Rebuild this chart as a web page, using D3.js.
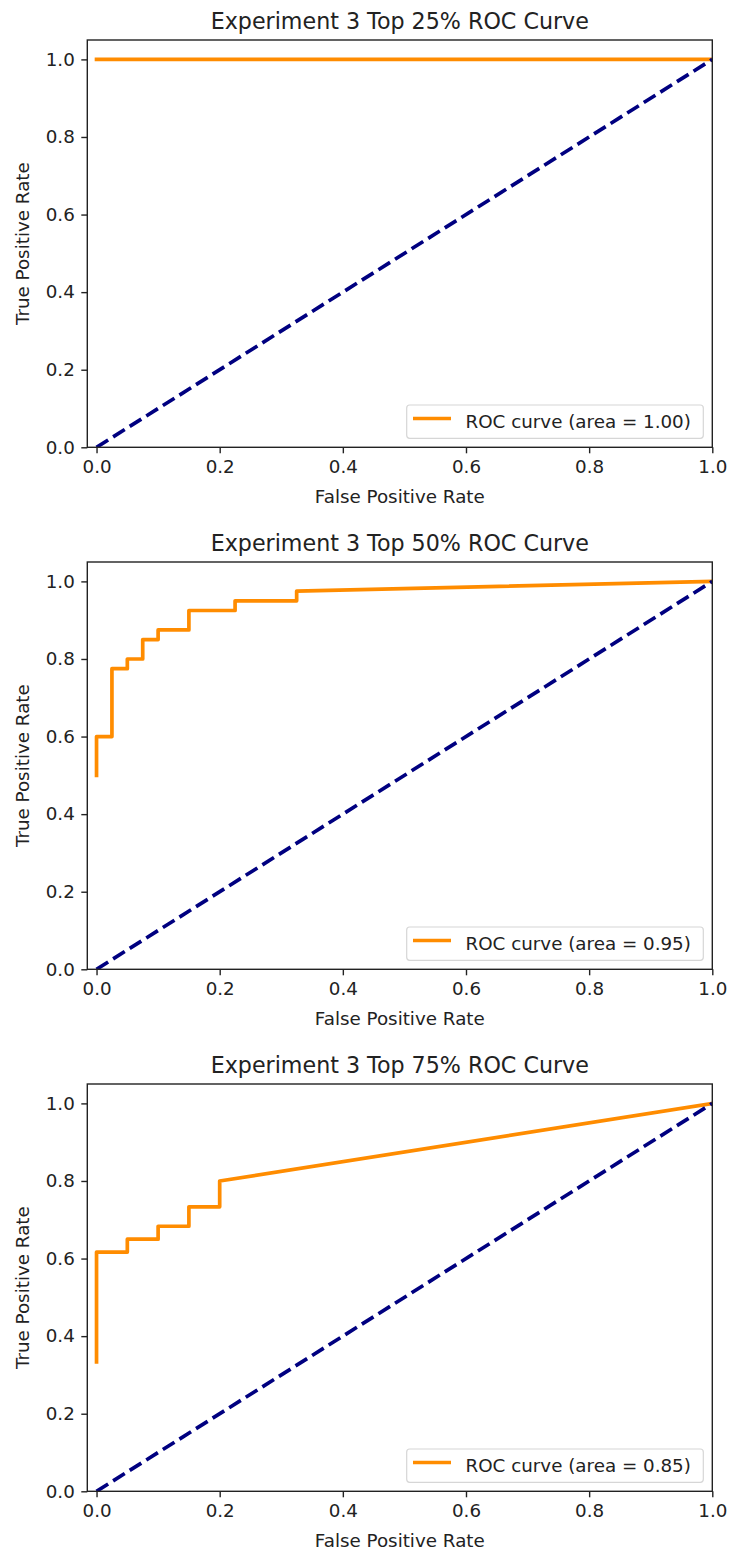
<!DOCTYPE html>
<html>
<head>
<meta charset="utf-8">
<script src="https://cdn.jsdelivr.net/npm/d3@7"></script>
<style>
  html, body { margin: 0; padding: 0; background: #fff; }
  svg { display: block; }
  text { font-family: "DejaVu Sans", sans-serif; fill: #222; }
</style>
</head>
<body>
<svg id="chart" width="730" height="1553"></svg>
<script>
// ROC curves for the three subsets of experiment 3
const panelTitles = [
  "Experiment 3 Top 25% ROC Curve",
  "Experiment 3 Top 50% ROC Curve",
  "Experiment 3 Top 75% ROC Curve"
];
const aucValues = [1.00, 0.95, 0.85];

const fpr25 = [0, 1];
const tpr25 = [1, 1];

const fpr50 = [0, 0, 0.025, 0.025, 0.05, 0.05, 0.075, 0.075, 0.1, 0.1, 0.15, 0.15, 0.225, 0.225, 0.325, 0.325, 1];
const tpr50 = [0.5, 0.6, 0.6, 0.775, 0.775, 0.8, 0.8, 0.85, 0.85, 0.875, 0.875, 0.925, 0.925, 0.95, 0.95, 0.975, 1];

const fpr75 = [0, 0, 0.05, 0.05, 0.1, 0.1, 0.15, 0.15, 0.2, 0.2, 1];
const tpr75 = [20/60, 37/60, 37/60, 39/60, 39/60, 41/60, 41/60, 44/60, 44/60, 48/60, 1];

const chanceX = [0, 1];
const chanceY = [0, 1];

const xTicks = [0, 0.2, 0.4, 0.6, 0.8, 1.0];
const yTicks = [0, 0.2, 0.4, 0.6, 0.8, 1.0];
const xLabel = "False Positive Rate";
const yLabel = "True Positive Rate";

const curves = [
  { fpr: fpr25, tpr: tpr25 },
  { fpr: fpr50, tpr: tpr50 },
  { fpr: fpr75, tpr: tpr75 }
];

const svg = d3.select("#chart");
svg.append("rect").attr("width", 730).attr("height", 1553).attr("fill", "#fff");

const axLeft = 87.3, axRight = 712.3, axTop = 40, axBottom = 447.3;
const panelStep = 522;
const tickLen = 6, tickPad = 6.5;
const fontTick = 18.3, fontTitle = 22.2;

curves.forEach((c, i) => {
  const g = svg.append("g").attr("transform", `translate(0,${i * panelStep})`);

  const x = d3.scaleLinear().domain([-0.015, 1.0]).range([axLeft, axRight]);
  const y = d3.scaleLinear().domain([0, 1.05]).range([axBottom, axTop]);

  const defs = g.append("defs");
  defs.append("clipPath").attr("id", "clip" + i)
    .append("rect")
    .attr("x", axLeft).attr("y", axTop)
    .attr("width", axRight - axLeft).attr("height", axBottom - axTop);

  const plot = g.append("g").attr("clip-path", `url(#clip${i})`);

  const line = d3.line().x(d => x(d[0])).y(d => y(d[1]));

  // ROC curve
  plot.append("path")
    .datum(c.fpr.map((f, k) => [f, c.tpr[k]]))
    .attr("d", line)
    .attr("fill", "none")
    .attr("stroke", "darkorange")
    .attr("stroke-width", 3.7)
    .attr("stroke-linejoin", "round")
    .attr("stroke-linecap", "square");

  // chance diagonal
  plot.append("path")
    .datum(chanceX.map((f, k) => [f, chanceY[k]]))
    .attr("d", line)
    .attr("fill", "none")
    .attr("stroke", "navy")
    .attr("stroke-width", 3.7)
    .attr("stroke-dasharray", "13.7,5.9");

  // x axis
  const xAxis = d3.axisBottom(x).tickValues(xTicks).tickFormat(d3.format(".1f"))
    .tickSize(tickLen).tickPadding(tickPad);
  const gx = g.append("g").attr("transform", `translate(0,${axBottom})`).call(xAxis);
  gx.select(".domain").remove();
  gx.selectAll(".tick line").attr("stroke", "#222").attr("stroke-width", 1.4);
  gx.selectAll(".tick text").attr("font-size", fontTick).attr("fill", "#222")
    .style("font-family", "'DejaVu Sans', sans-serif");

  // y axis
  const yAxis = d3.axisLeft(y).tickValues(yTicks).tickFormat(d3.format(".1f"))
    .tickSize(tickLen).tickPadding(tickPad);
  const gy = g.append("g").attr("transform", `translate(${axLeft},0)`).call(yAxis);
  gy.select(".domain").remove();
  gy.selectAll(".tick line").attr("stroke", "#222").attr("stroke-width", 1.4);
  gy.selectAll(".tick text").attr("font-size", fontTick).attr("fill", "#222")
    .style("font-family", "'DejaVu Sans', sans-serif");

  // axes frame
  g.append("rect")
    .attr("x", axLeft).attr("y", axTop)
    .attr("width", axRight - axLeft).attr("height", axBottom - axTop)
    .attr("fill", "none").attr("stroke", "#222").attr("stroke-width", 1.4);

  // title
  g.append("text")
    .attr("x", (axLeft + axRight) / 2).attr("y", 28.5)
    .attr("text-anchor", "middle")
    .attr("font-size", fontTitle)
    .text(panelTitles[i]);

  // axis labels
  g.append("text")
    .attr("x", (axLeft + axRight) / 2).attr("y", 503)
    .attr("text-anchor", "middle")
    .attr("font-size", fontTick)
    .text(xLabel);

  g.append("text")
    .attr("transform", `translate(29,${(axTop + axBottom) / 2}) rotate(-90)`)
    .attr("text-anchor", "middle")
    .attr("font-size", fontTick)
    .text(yLabel);

  // legend
  const lg = g.append("g");
  lg.append("rect")
    .attr("x", 406.7).attr("y", 405)
    .attr("width", 296.6).attr("height", 33.3)
    .attr("rx", 3).attr("ry", 3)
    .attr("fill", "#fff").attr("fill-opacity", 0.8)
    .attr("stroke", "#d6d6d6").attr("stroke-width", 1.2);
  lg.append("line")
    .attr("x1", 413).attr("x2", 451)
    .attr("y1", 418.5).attr("y2", 418.5)
    .attr("stroke", "darkorange").attr("stroke-width", 3.7);
  lg.append("text")
    .attr("x", 465.5).attr("y", 428)
    .attr("font-size", fontTick)
    .text(`ROC curve (area = ${aucValues[i].toFixed(2)})`);
});
</script>
</body>
</html>
